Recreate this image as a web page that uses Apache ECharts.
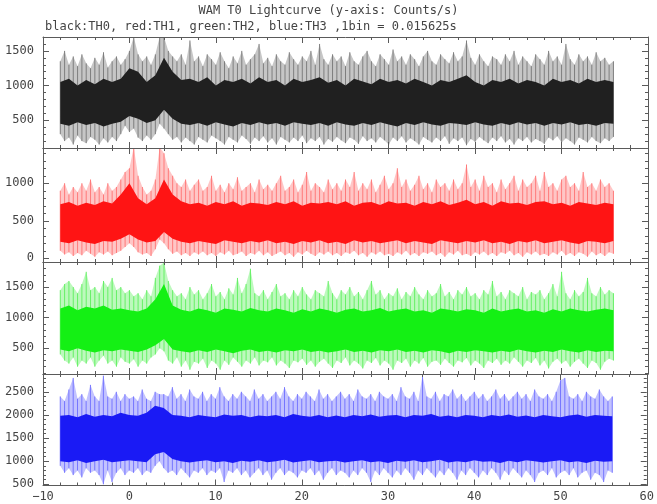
<!DOCTYPE html>
<html><head><meta charset="utf-8">
<script src="https://cdn.jsdelivr.net/npm/echarts@6/dist/echarts.min.js"></script>
<style>html,body{margin:0;padding:0;background:#fff}#c{width:657px;height:504px}</style>
</head><body><div id="c"></div>
<script>
// time grid: first bin at t = -8 s; envelopes sampled every 0.5 s, cores every 1 s
const T_START = -8;
const STEP_ENV = 0.5;
const STEP_CORE = 1;

// ---- TH0 (black) ----
const black_hi = [
 1350,1500,1300,1420,1280,1450,1320,1250,1400,1300,1480,1260,1350,1420,1300,1380,
 1500,1700,1450,1350,1420,1300,1450,1700,1700,1500,1420,1350,1450,1300,1650,1350,
 1420,1280,1450,1380,1300,1480,1350,1250,1420,1320,1500,1300,1380,1450,1600,1320,
 1400,1280,1450,1350,1300,1480,1380,1300,1420,1350,1500,1300,1600,1380,1300,1450,
 1350,1420,1280,1480,1350,1300,1420,1500,1350,1280,1450,1380,1300,1520,1350,1420,
 1300,1450,1380,1280,1420,1500,1350,1300,1450,1380,1320,1480,1350,1420,1650,1400,
 1300,1450,1350,1280,1420,1380,1300,1450,1350,1500,1300,1420,1350,1280,1450,1380,
 1300,1500,1350,1420,1300,1600,1380,1300,1450,1350,1420,1300,1480,1350,1400,1300,
 1350];
const black_lo = [
 300,200,250,150,280,200,170,260,220,150,240,180,260,200,300,420,
 330,380,250,200,280,220,300,450,380,300,220,260,180,250,200,150,
 260,220,180,280,240,200,150,260,220,180,280,230,160,250,200,270,
 180,240,150,260,220,180,250,200,280,170,240,200,260,150,230,190,
 260,210,170,250,220,160,270,200,240,180,260,210,150,250,200,270,
 180,240,200,150,260,220,180,250,200,270,160,240,200,250,140,230,
 190,260,210,170,250,200,270,180,230,150,240,200,260,180,230,200,
 160,250,210,270,180,240,200,150,250,220,180,260,200,170,240,200,
 260];
const black_coreHi = [
 1050,1100,1000,1080,1020,1100,1050,1100,
 1250,1200,1050,1150,1400,1200,1080,1100,
 1050,1120,1000,1080,1050,1100,1030,1120,
 1050,1080,1000,1100,1050,1080,1120,1040,
 1080,1000,1100,1060,1020,1100,1050,1080,
 1030,1100,1050,1000,1080,1050,1100,1150,
 1050,1000,1080,1050,1100,1030,1080,1050,
 1000,1100,1050,1080,1030,1100,1050,1080,
 1050];
const black_coreLo = [
 450,420,470,430,460,410,450,480,
 560,520,460,500,650,520,450,430,
 460,420,470,440,410,460,430,470,
 440,460,420,470,450,430,460,420,
 470,440,420,460,430,470,440,410,
 460,430,470,440,420,460,450,430,
 470,440,420,460,430,470,440,460,
 420,460,440,470,430,450,420,460,
 450];

// ---- TH1 (red) ----
const red_hi = [
 900,1000,850,950,880,1000,900,1050,880,950,850,1000,900,950,1050,1150,
 1200,1480,1100,950,850,900,1050,1480,1400,1200,1100,1000,950,1050,900,980,
 1050,900,950,1100,900,980,880,1000,920,1080,900,950,1000,880,1050,920,
 980,900,1000,1100,900,950,1050,880,980,1150,900,1000,950,880,1050,920,
 1000,900,1050,950,1150,900,1000,920,1050,880,980,1100,920,1000,1200,950,
 1050,900,980,1100,920,1000,880,1050,950,1000,900,1050,920,1000,1250,950,
 1050,900,1100,950,1000,880,1050,920,1000,1100,900,1050,950,1000,1100,900,
 1150,950,1000,900,1050,1100,950,1000,900,1150,950,1000,900,1050,950,1000,
 900];
const red_lo = [
 100,50,80,30,70,40,100,60,20,80,50,90,40,70,100,150,
 200,150,80,50,70,30,120,250,200,120,60,90,40,70,30,80,
 50,90,40,70,30,80,50,100,40,60,90,30,70,50,100,40,
 80,30,60,90,40,70,20,80,50,100,60,30,80,50,90,40,
 70,30,80,60,100,40,70,20,80,50,90,40,60,30,80,50,
 100,40,70,30,80,60,90,40,70,20,80,50,100,40,60,30,
 80,50,90,40,70,30,80,60,100,40,70,20,80,50,90,40,
 60,30,80,50,100,40,70,30,80,60,20,90,40,70,30,80,
 60];
const red_coreHi = [
 720,750,700,740,710,760,730,850,
 1000,800,720,800,1050,850,760,720,
 740,700,750,720,760,700,740,730,
 710,750,720,760,700,740,730,750,
 720,760,700,740,750,710,760,730,
 740,700,750,720,760,710,740,780,
 720,750,700,760,730,740,710,750,
 760,720,740,700,750,730,710,740,
 720];
const red_coreLo = [
 220,200,240,210,190,230,220,260,
 320,250,210,230,350,260,220,200,
 230,210,190,240,220,200,230,210,
 240,200,220,190,230,210,240,200,
 220,190,240,210,230,200,220,240,
 200,230,210,190,240,220,200,230,
 210,240,200,220,190,230,210,240,
 200,220,240,210,190,230,220,200,
 230];

// ---- TH2 (green) ----
const green_hi = [
 1450,1550,1600,1500,1400,1550,1750,1450,1500,1400,1600,1500,1650,1450,1500,1400,
 1450,1350,1400,1300,1450,1350,1650,1850,1900,1600,1450,1350,1400,1300,1500,1380,
 1450,1300,1400,1550,1350,1420,1300,1480,1380,1650,1400,1550,1800,1400,1350,1450,
 1300,1420,1550,1350,1400,1300,1450,1350,1500,1380,1300,1450,1400,1350,1600,1400,
 1300,1450,1380,1500,1350,1420,1300,1450,1600,1380,1450,1300,1400,1350,1480,1300,
 1420,1350,1500,1380,1300,1450,1350,1400,1550,1350,1420,1300,1450,1380,1500,1350,
 1400,1300,1450,1380,1600,1350,1420,1300,1450,1400,1350,1500,1300,1420,1380,1450,
 1300,1400,1550,1350,1750,1400,1300,1450,1350,1420,1650,1400,1350,1500,1380,1450,
 1400];
const green_lo = [
 400,300,250,350,200,300,250,350,200,300,380,250,300,200,350,280,
 250,320,200,300,250,350,400,500,450,300,250,350,200,300,150,280,
 250,330,180,300,250,150,300,230,350,280,200,300,250,350,220,300,
 270,350,220,300,250,180,300,270,330,230,300,200,280,330,250,180,
 300,260,350,220,300,250,170,300,260,340,220,300,250,150,300,260,
 330,200,300,250,340,200,280,300,230,330,260,200,300,270,340,220,
 300,250,180,300,260,330,230,300,250,350,280,200,300,260,340,220,
 300,170,280,330,250,300,200,280,330,250,180,300,260,150,280,330,
 300];
const green_coreHi = [
 1150,1200,1120,1180,1150,1200,1130,1150,
 1120,1100,1150,1300,1550,1200,1130,1100,
 1150,1120,1080,1150,1130,1100,1160,1120,
 1100,1150,1120,1080,1140,1100,1150,1120,
 1080,1130,1150,1100,1120,1160,1100,1130,
 1150,1100,1120,1080,1150,1130,1100,1140,
 1120,1080,1150,1100,1130,1150,1100,1120,
 1080,1140,1100,1150,1120,1100,1130,1150,
 1120];
const green_coreLo = [
 480,450,500,460,430,470,450,480,
 460,440,480,550,650,480,450,430,
 470,440,480,450,420,460,480,440,
 460,430,470,450,480,440,460,430,
 450,480,440,460,430,470,450,480,
 440,460,430,470,450,420,460,440,
 470,450,430,460,440,480,450,430,
 460,440,480,450,430,470,440,460,
 450];

// ---- TH3 (blue) ----
const blue_hi = [
 2400,2300,2550,2800,2350,2450,2300,2650,2400,2300,2850,2400,2350,2500,2300,2450,
 2350,2400,2300,2550,2350,2300,2500,2450,2450,2400,2600,2350,2450,2300,2550,2400,
 2350,2500,2300,2450,2350,2600,2400,2300,2450,2350,2500,2400,2300,2550,2350,2450,
 2300,2400,2500,2350,2600,2400,2300,2450,2350,2500,2400,2300,2550,2350,2450,2300,
 2400,2500,2350,2450,2300,2550,2400,2350,2450,2300,2500,2400,2350,2450,2300,2600,
 2400,2350,2500,2300,2850,2400,2350,2500,2300,2450,2400,2550,2350,2450,2300,2400,
 2500,2350,2450,2300,2400,2550,2350,2450,2300,2400,2500,2350,2450,2300,2550,2400,
 2350,2450,2300,2500,2750,2800,2400,2350,2450,2300,2500,2400,2350,2550,2400,2300,
 2400];
const blue_lo = [
 900,750,850,700,800,650,850,750,800,700,500,800,550,750,850,700,
 800,750,850,700,800,750,900,1000,850,750,800,700,850,750,650,800,
 750,850,700,800,750,850,550,800,750,850,700,800,650,750,850,700,
 800,600,750,850,700,800,750,650,800,750,850,700,800,600,750,850,
 700,800,750,650,800,700,850,750,550,800,700,850,750,650,800,700,
 850,750,600,800,700,850,750,650,800,700,850,750,600,800,700,850,
 750,650,800,700,850,750,600,800,700,850,750,650,800,700,550,750,
 800,700,850,650,750,800,700,850,650,750,800,600,750,700,550,800,
 750];
const blue_coreHi = [
 1980,2000,1950,2020,1960,2000,1970,2050,
 2000,1980,2050,2200,2150,2000,1980,1950,
 2000,1970,1950,2010,1980,2000,1950,1990,
 1970,2000,1950,2020,1980,1960,2000,1950,
 1990,1950,2000,1970,2010,1960,1990,2000,
 1950,2000,1980,2020,1960,1990,1950,2000,
 1980,1950,2000,1970,2010,1960,1990,1950,
 2000,1970,1950,1990,2010,1960,2000,1980,
 1970];
const blue_coreLo = [
 1000,980,1020,960,1000,1030,980,1000,
 1020,1000,980,1150,1200,1050,1000,970,
 1000,1020,980,1000,960,1010,990,1020,
 980,1000,1030,970,1000,1020,980,1000,
 1010,970,1000,1020,980,1000,960,1010,
 990,1020,980,1000,1030,970,1000,980,
 1020,990,1000,960,1010,980,1020,1000,
 970,1000,1020,980,1000,960,1010,990,
 1000];

// tick labels
const y0Labels = [500, 1000, 1500];
const y1Labels = [0, 500, 1000];
const y2Labels = [500, 1000, 1500];
const y3Labels = [500, 1000, 1500, 2000, 2500];

const titleText = 'WAM T0 Lightcurve (y-axis: Counts/s)';
const subText = 'black:TH0, red:TH1, green:TH2, blue:TH3 ,1bin = 0.015625s';

const panels = [
  {hi: black_hi, lo: black_lo, cHi: black_coreHi, cLo: black_coreLo, fringe: '#c6c6c6', hair: '#7e7e7e', core: '#202020', min: 100, max: 1700, labels: y0Labels},
  {hi: red_hi, lo: red_lo, cHi: red_coreHi, cLo: red_coreLo, fringe: '#ffc6c6', hair: '#ff7a7a', core: '#ff1414', min: -50, max: 1470, labels: y1Labels},
  {hi: green_hi, lo: green_lo, cHi: green_coreHi, cLo: green_coreLo, fringe: '#bdf9bd', hair: '#66f066', core: '#14f014', min: 80, max: 1910, labels: y2Labels},
  {hi: blue_hi, lo: blue_lo, cHi: blue_coreHi, cLo: blue_coreLo, fringe: '#c2c2ff', hair: '#7676ff', core: '#1a1af5', min: 475, max: 2885, labels: y3Labels}
];
const layout = [
  {top: 37, height: 111},
  {top: 148, height: 114},
  {top: 262, height: 112},
  {top: 374, height: 111.5}
];

const AX = '#5a5a5a';
const TXT = '#444';
const FONT = 'DejaVu Sans Mono';

function minorTicks(min, max, majors) {
  const out = [];
  for (let v = Math.ceil(min / 100) * 100; v <= max; v += 100) if (majors.indexOf(v) < 0 && v % 500 !== 0) out.push(v);
  return out;
}

// band between two value arrays, drawn as one polygon through the axis scales
function bandSeries(xi, yi, lo, hi, step, color, z) {
  return {
    type: 'custom', xAxisIndex: xi, yAxisIndex: yi, silent: true, z: z, clip: true,
    data: [[T_START, lo[0]]],
    renderItem: function (params, api) {
      const top = hi.map((v, i) => api.coord([T_START + i * step, v]));
      const bot = lo.map((v, i) => api.coord([T_START + i * step, v])).reverse();
      return {type: 'polygon', shape: {points: top.concat(bot)}, style: {fill: color}};
    }
  };
}
// one vertical hairline per envelope sample, from its low to its high value
function hairSeries(xi, yi, lo, hi, step, color, z) {
  return {
    type: 'custom', xAxisIndex: xi, yAxisIndex: yi, silent: true, z: z, clip: true,
    data: lo.map((v, i) => [T_START + i * step, v, hi[i]]),
    encode: {x: 0, y: [1, 2]},
    renderItem: function (params, api) {
      const a = api.coord([api.value(0), api.value(1)]);
      const b = api.coord([api.value(0), api.value(2)]);
      return {type: 'line', shape: {x1: a[0], y1: a[1], x2: b[0], y2: b[1]}, style: {stroke: color, lineWidth: 1}};
    }
  };
}

const grid = [], xAxis = [], yAxis = [], series = [];
panels.forEach((p, k) => {
  grid.push({left: 43, right: 9, top: layout[k].top, height: layout[k].height, show: false});
  const last = k === panels.length - 1;
  ['bottom', 'top'].forEach(pos => {
    xAxis.push({
      type: 'value', gridIndex: k, position: pos, min: -10, max: 60, interval: 10, z: 10,
      axisLine: {show: true, onZero: false, lineStyle: {color: AX, width: 1}},
      axisTick: {show: true, inside: true, length: 6, lineStyle: {color: AX}},
      minorTick: {show: true, splitNumber: 5, length: 3, lineStyle: {color: AX}},
      splitLine: {show: false}, minorSplitLine: {show: false},
      axisLabel: {show: last && pos === 'bottom', color: TXT, fontFamily: FONT, fontSize: 12, margin: 5,
        formatter: v => (v < 0 ? '\u2212' + Math.abs(v) : String(v))}
    });
  });
  const minors = minorTicks(p.min, p.max, p.labels);
  ['left', 'right'].forEach(pos => {
    yAxis.push({
      type: 'value', gridIndex: k, position: pos, min: p.min, max: p.max, z: 10,
      axisLine: {show: true, onZero: false, lineStyle: {color: AX, width: 1}},
      axisTick: {show: true, inside: true, length: 6, customValues: p.labels, lineStyle: {color: AX}},
      axisLabel: {show: pos === 'left', customValues: p.labels, color: TXT, fontFamily: FONT, fontSize: 12, margin: 9,
        formatter: v => String(v)},
      splitLine: {show: false}
    });
    yAxis.push({
      type: 'value', gridIndex: k, position: pos, min: p.min, max: p.max, z: 10,
      axisLine: {show: false, onZero: false},
      axisTick: {show: true, inside: true, length: 3, customValues: minors, lineStyle: {color: AX}},
      axisLabel: {show: false, customValues: minors},
      splitLine: {show: false}
    });
  });
  const xi = 2 * k, yi = 4 * k;
  series.push(bandSeries(xi, yi, p.lo, p.hi, STEP_ENV, p.fringe, 2));
  series.push(hairSeries(xi, yi, p.lo, p.hi, STEP_ENV, p.hair, 3));
  series.push(bandSeries(xi, yi, p.cLo, p.cHi, STEP_CORE, p.core, 4));
});

const chart = echarts.init(document.getElementById('c'), null, {renderer: 'canvas'});
chart.setOption({
  animation: false,
  backgroundColor: '#fff',
  title: [
    {text: titleText, left: 'center', top: 0, textStyle: {color: TXT, fontFamily: FONT, fontSize: 12, fontWeight: 'normal'}},
    {text: subText, left: 40, top: 16, textStyle: {color: TXT, fontFamily: FONT, fontSize: 12, fontWeight: 'normal'}}
  ],
  grid: grid, xAxis: xAxis, yAxis: yAxis, series: series
});
</script>
</body></html>
